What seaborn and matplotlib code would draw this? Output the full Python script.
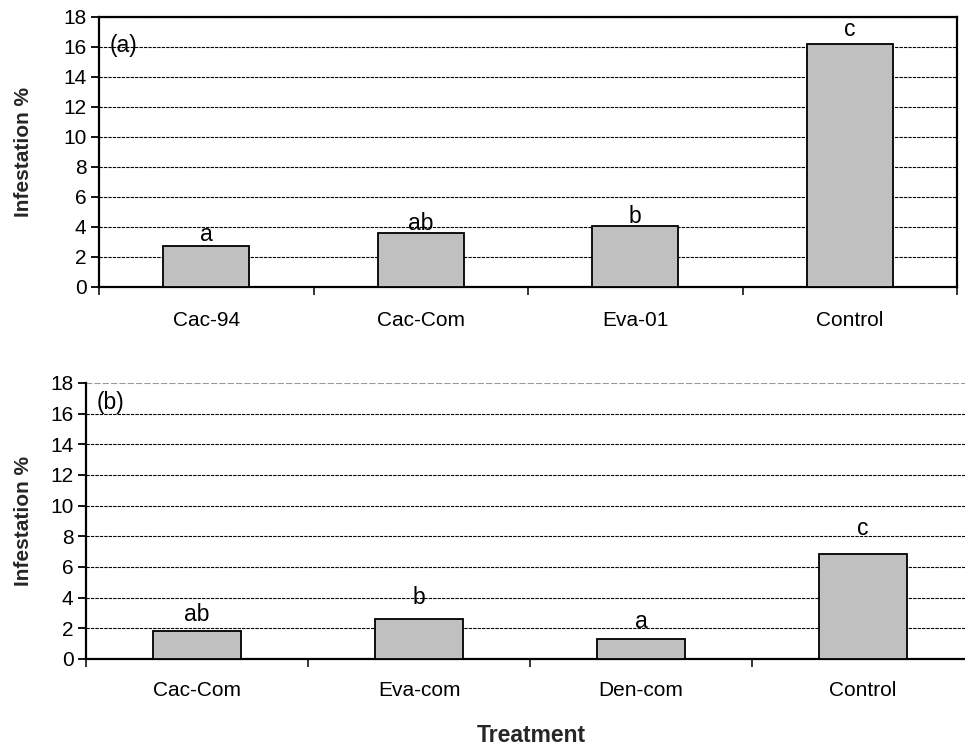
import matplotlib
matplotlib.use("Agg")
import matplotlib.pyplot as plt
import seaborn as sns
import pandas as pd
from matplotlib.ticker import FixedLocator

# ---- data ----
cats_a = ["Cac-94", "Cac-Com", "Eva-01", "Control"]
vals_a = [2.75, 3.58, 4.09, 16.2]
letters_a = ["a", "ab", "b", "c"]
letter_y_a = [3.47, 4.25, 4.73, 17.18]

cats_b = ["Cac-Com", "Eva-com", "Den-com", "Control"]
vals_b = [1.83, 2.59, 1.28, 6.87]
letters_b = ["ab", "b", "a", "c"]
letter_y_b = [2.87, 4.0, 2.43, 8.48]

yticks = [0, 2, 4, 6, 8, 10, 12, 14, 16, 18]

sns.set_theme(style="white")
plt.rcParams['font.family'] = ['Liberation Sans', 'DejaVu Sans']

fig = plt.figure(figsize=(9.65, 7.49), dpi=100)
ax1 = fig.add_axes([99/965, 1-287/749, 858/965, 270/749])
ax2 = fig.add_axes([86/965, 1-659/749, 888/965, 276/749])

def draw(ax, cats, vals, letters, ly, tag, tag_y, boxed, xpad):
    df = pd.DataFrame({"Treatment": cats, "Infestation": vals})
    sns.barplot(data=df, x="Treatment", y="Infestation", ax=ax, color="#c0c0c0",
                saturation=1, width=0.4, edgecolor="black", linewidth=1.3, zorder=3)
    ax.set_xlim(-0.5, 3.5)
    ax.set_ylim(0, 18)
    ax.set_yticks(yticks)
    ax.tick_params(axis="y", which="major", direction="out", length=6, width=1.3,
                   left=True, labelsize=15, pad=3, colors="black")
    ax.tick_params(axis="x", which="major", length=0, labelsize=15, pad=xpad, colors="black")
    ax.xaxis.set_minor_locator(FixedLocator([-0.5, 0.5, 1.5, 2.5, 3.5]))
    ax.tick_params(axis="x", which="minor", direction="out", length=6, width=1.3, bottom=True)
    for t in yticks[1:]:
        c = "#999999" if (t == 18 and not boxed) else "black"
        lw = 1.5 if (t == 18 and not boxed) else 0.8
        ax.axhline(t, color=c, lw=lw, ls=(0, (3, 1)), zorder=1)
    for s in ["left", "bottom"]:
        ax.spines[s].set_color("black")
        ax.spines[s].set_linewidth(1.6)
    for s in ["top", "right"]:
        ax.spines[s].set_visible(boxed)
        ax.spines[s].set_color("black")
        ax.spines[s].set_linewidth(1.6)
    for i, (l, y) in enumerate(zip(letters, ly)):
        ax.text(i, y, l, ha="center", va="center", fontsize=16.5, color="black", zorder=4)
    ax.text(-0.45, tag_y, tag, ha="left", va="center", fontsize=16.5, color="black", zorder=4)
    ax.set_ylabel("Infestation %", fontsize=15, fontweight="bold")
    bb = ax.get_position()
    ax.yaxis.set_label_coords((33/965 - bb.x0) / bb.width, 0.5)

draw(ax1, cats_a, vals_a, letters_a, letter_y_a, "(a)", 16.1, True, 17)
draw(ax2, cats_b, vals_b, letters_b, letter_y_b, "(b)", 16.7, False, 16)
ax1.set_xlabel("")
ax2.set_xlabel("")
fig.text(531/965, 1-735/749, "Treatment", ha="center", va="center",
         fontsize=16.5, fontweight="bold")

fig.savefig("out.png", dpi=100)
